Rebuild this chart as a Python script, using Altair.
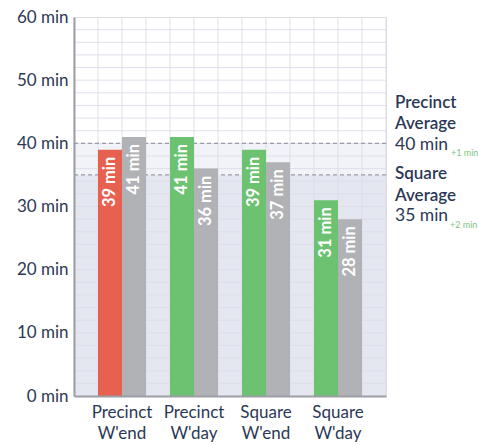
import altair as alt
import pandas as pd

# Wait times per group, in minutes
categories = ["Precinct W'end", "Precinct W'day", "Square W'end", "Square W'day"]
area_minutes = [39, 41, 39, 31]
compare_minutes = [41, 36, 37, 28]

# Reference averages shown on the right
precinct_avg = 40
precinct_delta = "+1 min"
square_avg = 35
square_delta = "+2 min"

grid_minutes = list(range(2, 60, 2))
grid_columns = list(range(0, 14))
axis_minutes = list(range(0, 61, 10))

NAVY = "#2b3856"
RED = "#e8604f"
GREEN = "#6cc270"
GREY = "#b1b2b6"
FONT = "Lato"

rows = []
for cat, a, c in zip(categories, area_minutes, compare_minutes):
    rows.append({"category": cat, "series": "area", "minutes": a,
                 "status": "below" if a < c else "above"})
    rows.append({"category": cat, "series": "compare", "minutes": c,
                 "status": "compare"})
bars_df = pd.DataFrame(rows)
bars_df["label"] = bars_df["minutes"].astype(str) + " min"

y_scale = alt.Scale(domain=[0, 60], nice=False, zero=True)
x_scale = alt.Scale(paddingInner=1 / 3, paddingOuter=1 / 3)
y_axis = alt.Axis(values=axis_minutes, grid=False, ticks=False, domain=True,
                  domainColor="#9c9ea5", domainWidth=2, labelFontSize=17,
                  labelColor=NAVY, labelFont=FONT, labelPadding=6, zindex=1,
                  labelExpr="datum.value + ' min'")


def y_enc(field):
    return alt.Y(field, scale=y_scale, axis=y_axis, title=None)


# Shaded zones under the averages
zone_low = alt.Chart(pd.DataFrame({"lo": [0], "hi": [square_avg]})).mark_rect(
    color="#e4e7ef"
).encode(y=y_enc("lo:Q"), y2="hi:Q")
zone_mid = alt.Chart(pd.DataFrame({"lo": [square_avg], "hi": [precinct_avg]})).mark_rect(
    color="#f2f3f8"
).encode(y=y_enc("lo:Q"), y2="hi:Q")

# Light grid
hgrid = alt.Chart(pd.DataFrame({"m": grid_minutes})).mark_rule(
    color="#d9dce7", strokeWidth=1, opacity=0.85
).encode(y=y_enc("m:Q"))
vgrid = alt.Chart(pd.DataFrame({"col": grid_columns})).mark_rule(
    color="#d9dce7", strokeWidth=1, opacity=0.85
).encode(x=alt.X("col:Q", scale=alt.Scale(domain=[0, 13], nice=False), axis=None))

# Dashed average lines
avg_lines = alt.Chart(pd.DataFrame({"m": [precinct_avg, square_avg]})).mark_rule(
    color="#9a9da6", strokeWidth=1.2, strokeDash=[4, 3]
).encode(y=y_enc("m:Q"))

bars = alt.Chart(bars_df).mark_bar().encode(
    x=alt.X("category:N", sort=categories, scale=x_scale, title=None,
            axis=alt.Axis(labelAngle=0, ticks=False, domain=True, domainColor="#9c9ea5",
                          domainWidth=2, labelFontSize=17, labelColor=NAVY, labelFont=FONT,
                          labelPadding=8, labelLineHeight=21, zindex=1,
                          labelExpr="split(datum.label, ' ')")),
    xOffset=alt.XOffset("series:N", sort=["area", "compare"],
                        scale=alt.Scale(paddingInner=0, paddingOuter=0)),
    y=y_enc("minutes:Q"),
    color=alt.Color("status:N", legend=None,
                    scale=alt.Scale(domain=["below", "above", "compare"],
                                    range=[RED, GREEN, GREY])),
)

bar_labels = alt.Chart(bars_df).mark_text(
    angle=270, align="right", baseline="middle", dx=-7, color="white",
    fontSize=16.5, fontWeight="bold", font=FONT
).encode(
    x=alt.X("category:N", sort=categories, scale=x_scale, axis=None),
    xOffset=alt.XOffset("series:N", sort=["area", "compare"],
                        scale=alt.Scale(paddingInner=0, paddingOuter=0)),
    y=y_enc("minutes:Q"),
    text="label:N",
)

# Side annotations, placed relative to each average line
notes = []
note_specs = [
    ("Precinct", precinct_avg, -40, 17, 600, NAVY, 321),
    ("Average", precinct_avg, -19, 17, 600, NAVY, 321),
    (f"{precinct_avg} min", precinct_avg, 2, 17.5, 400, NAVY, 321),
    (precinct_delta, precinct_avg, 10, 9, 400, "#7cc47f", 377),
    ("Square", square_avg, -1, 17, 600, NAVY, 321),
    ("Average", square_avg, 21, 17, 600, NAVY, 321),
    (f"{square_avg} min", square_avg, 41, 17.5, 400, NAVY, 321),
    (square_delta, square_avg, 50, 9, 400, "#7cc47f", 376),
]
for text, level, dy, size, weight, color, xpix in note_specs:
    notes.append(
        alt.Chart(pd.DataFrame({"m": [level], "t": [text]})).mark_text(
            align="left", baseline="middle", dy=dy, fontSize=size,
            fontWeight=weight, color=color, font=FONT
        ).encode(x=alt.value(xpix), y=y_enc("m:Q"), text="t:N")
    )

chart = alt.layer(
    zone_low, zone_mid, hgrid, vgrid, avg_lines, bars, bar_labels, *notes
).resolve_scale(x="independent").properties(
    width=312, height=379,
    padding={"left": 74, "top": 17, "right": 92, "bottom": 49},
    autosize=alt.AutoSizeParams(type="none"),
).configure_view(stroke=None).configure(background="white")

chart.save("out.html", embed_options={"renderer": "svg", "actions": False})
